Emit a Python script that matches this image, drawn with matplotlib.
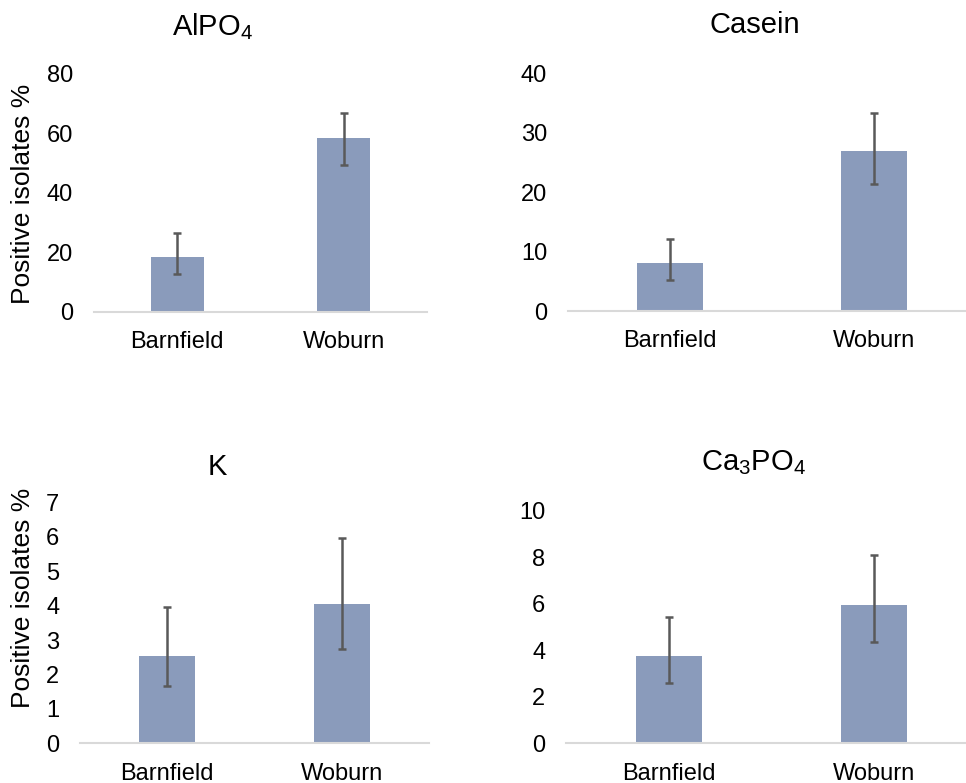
import matplotlib.pyplot as plt

plt.rcParams['font.family'] = ['Liberation Sans', 'DejaVu Sans']
plt.rcParams['mathtext.default'] = 'regular'

sites = ["Barnfield", "Woburn"]

alpo4_mean = [18.5, 58.4]
alpo4_hi = [26.4, 67.0]
alpo4_lo = [12.6, 49.4]

casein_mean = [8.1, 26.9]
casein_hi = [12.1, 33.4]
casein_lo = [5.3, 21.3]

k_mean = [2.55, 4.05]
k_hi = [3.95, 5.95]
k_lo = [1.65, 2.75]

ca_mean = [3.76, 5.93]
ca_hi = [5.44, 8.08]
ca_lo = [2.58, 4.34]

bar_color = '#8A9BBB'
err_color = '#595959'

W, H = 966, 783
fig = plt.figure(figsize=(W / 100, H / 100), dpi=100)

def px_axes(x0, x1, ytop, ybot):
    return fig.add_axes([x0 / W, 1 - ybot / H, (x1 - x0) / W, (ybot - ytop) / H])

def panel(ax, mean, hi, lo, ymax, step):
    x = range(len(sites))
    ax.bar(x, mean, width=0.32, color=bar_color, zorder=2)
    yerr = [[m - l for m, l in zip(mean, lo)], [h - m for m, h in zip(mean, hi)]]
    ax.errorbar(x, mean, yerr=yerr, fmt='none', ecolor=err_color,
                elinewidth=1.8, capsize=3.2, capthick=1.8, zorder=3)
    ax.set_xlim(-0.5, 1.5)
    ax.set_ylim(0, ymax)
    ax.set_yticks([i * step for i in range(int(round(ymax / step)) + 1)])
    ax.set_xticks(list(x))
    ax.set_xticklabels(sites)
    for s in ['top', 'right', 'left']:
        ax.spines[s].set_visible(False)
    ax.spines['bottom'].set_color('#D9D9D9')
    ax.spines['bottom'].set_linewidth(1.5)
    ax.spines['bottom'].set_zorder(4)
    ax.tick_params(axis='y', length=0, pad=15, labelsize=17, colors='#000000')
    ax.tick_params(axis='x', length=0, pad=14, labelsize=17, colors='#000000')

ax1 = px_axes(94, 427, 74, 311.7)
panel(ax1, alpo4_mean, alpo4_hi, alpo4_lo, 80, 20)
ax2 = px_axes(568, 976, 73.3, 311)
panel(ax2, casein_mean, casein_hi, casein_lo, 40, 10)
ax3 = px_axes(80, 429, 502.3, 743.3)
panel(ax3, k_mean, k_hi, k_lo, 7, 1)
ax4 = px_axes(566, 977, 510.7, 743.3)
panel(ax4, ca_mean, ca_hi, ca_lo, 10, 2)

# panel titles centred over each chart area
titles = [("AlPO$_4$", 213, 27), ("Casein", 755, 25), ("K", 217, 467), ("Ca$_3$PO$_4$", 753, 463)]
for t, x, y in titles:
    fig.text(x / W, 1 - y / H, t, ha='center', va='center', fontsize=21)

fig.text(23 / W, 1 - 194 / H, "Positive isolates %", rotation=90, ha='center', va='center', fontsize=19)
fig.text(23 / W, 1 - 598 / H, "Positive isolates %", rotation=90, ha='center', va='center', fontsize=19)

fig.savefig("out.png", dpi=100)
